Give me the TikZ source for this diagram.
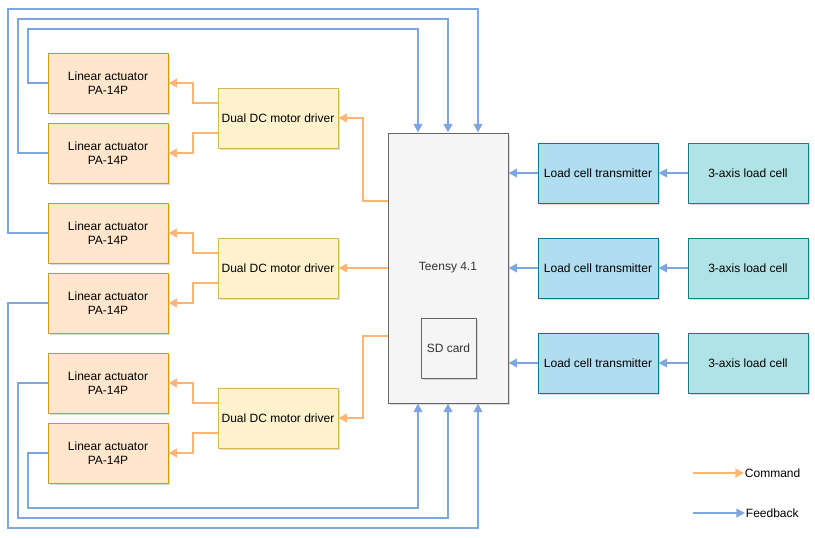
\documentclass[tikz,border=0pt]{standalone}
\usepackage{fontspec}
\setmainfont{Liberation Sans}
\usetikzlibrary{arrows.meta,shadows}
\definecolor{actfill}{HTML}{FFE6CC}\definecolor{actdraw}{HTML}{D79B00}
\definecolor{drvfill}{HTML}{FFF2CC}\definecolor{drvdraw}{HTML}{D6B656}
\definecolor{tnyfill}{HTML}{F5F5F5}\definecolor{tnydraw}{HTML}{666666}
\definecolor{ltfill}{HTML}{B1DDF0}\definecolor{ltdraw}{HTML}{10739E}
\definecolor{lcfill}{HTML}{B0E3E6}\definecolor{lcdraw}{HTML}{0E8088}
\definecolor{cmdc}{HTML}{FFB570}\definecolor{fbc}{HTML}{7EA6E0}
\definecolor{txtgray}{HTML}{333333}
\tikzset{
  box/.style={rectangle, draw, line width=0.75pt, minimum width=90pt, minimum height=45pt,
    inner sep=0pt, align=center, font=\fontsize{9}{10.5}\selectfont,
    drop shadow={shadow xshift=1.5pt, shadow yshift=-1.5pt, opacity=0.28}},
  actbox/.style={box, fill=actfill, draw=actdraw},
  drvbox/.style={box, fill=drvfill, draw=drvdraw},
  ltbox/.style={box, fill=ltfill, draw=ltdraw},
  lcbox/.style={box, fill=lcfill, draw=lcdraw},
  cmd/.style={draw=cmdc, line width=1.6pt, -{Triangle[length=6.5pt,width=6.5pt]}},
  fb/.style={draw=fbc, line width=1.6pt, -{Triangle[length=6.5pt,width=6.5pt]}},
}
\begin{document}
\begin{tikzpicture}[x=0.75pt,y=-0.75pt]
\useasboundingbox (0,0) rectangle (815,537);
% actuators
\node[actbox] (a1) at (108,83) {Linear actuator\\PA-14P};
\node[actbox] (a2) at (108,153) {Linear actuator\\PA-14P};
\node[actbox] (a3) at (108,233) {Linear actuator\\PA-14P};
\node[actbox] (a4) at (108,303) {Linear actuator\\PA-14P};
\node[actbox] (a5) at (108,383) {Linear actuator\\PA-14P};
\node[actbox] (a6) at (108,453) {Linear actuator\\PA-14P};
% drivers
\node[drvbox] (d1) at (278,118) {Dual DC motor driver};
\node[drvbox] (d2) at (278,268) {Dual DC motor driver};
\node[drvbox] (d3) at (278,418) {Dual DC motor driver};
% teensy
\node[box, fill=tnyfill, draw=tnydraw, minimum width=90pt, minimum height=202.5pt, text=txtgray] (T) at (448,268) {Teensy 4.1};
\node[box, fill=tnyfill, draw=tnydraw, minimum width=41.25pt, minimum height=45pt, text=txtgray] (sd) at (448.5,348) {SD card};
% load cell transmitters and load cells
\node[ltbox] (l1) at (598,173) {Load cell transmitter};
\node[ltbox] (l2) at (598,268) {Load cell transmitter};
\node[ltbox] (l3) at (598,363) {Load cell transmitter};
\node[lcbox] (c1) at (748,173) {3-axis load cell};
\node[lcbox] (c2) at (748,268) {3-axis load cell};
\node[lcbox] (c3) at (748,363) {3-axis load cell};
% load cell chain
\draw[fb] (c1.west) -- (l1.east);
\draw[fb] (c2.west) -- (l2.east);
\draw[fb] (c3.west) -- (l3.east);
\draw[fb] (l1.west) -- (T.east |- l1.west);
\draw[fb] (l2.west) -- (T.east |- l2.west);
\draw[fb] (l3.west) -- (T.east |- l3.west);
% commands teensy -> drivers
\draw[cmd] (T.west |- 0,201) -- (363,201) |- (d1.east);
\draw[cmd] (T.west |- d2.east) -- (d2.east);
\draw[cmd] (T.west |- 0,336) -- (363,336) |- (d3.east);
% drivers -> actuators
\draw[cmd] ([yshift=11.25pt]d1.west) -- (193,103) |- (a1.east);
\draw[cmd] ([yshift=-11.25pt]d1.west) -- (193,133) |- (a2.east);
\draw[cmd] ([yshift=11.25pt]d2.west) -- (193,253) |- (a3.east);
\draw[cmd] ([yshift=-11.25pt]d2.west) -- (193,283) |- (a4.east);
\draw[cmd] ([yshift=11.25pt]d3.west) -- (193,403) |- (a5.east);
\draw[cmd] ([yshift=-11.25pt]d3.west) -- (193,433) |- (a6.east);
% feedback top
\draw[fb] (a1.west) -- (28,83) -- (28,29) -- (418,29) -- ([xshift=-22.5pt]T.north);
\draw[fb] (a2.west) -- (18,153) -- (18,19) -- (448,19) -- (T.north);
\draw[fb] (a3.west) -- (8,233) -- (8,9) -- (478,9) -- ([xshift=22.5pt]T.north);
% feedback bottom
\draw[fb] (a4.west) -- (8,303) -- (8,528) -- (478,528) -- ([xshift=22.5pt]T.south);
\draw[fb] (a5.west) -- (18,383) -- (18,518) -- (448,518) -- (T.south);
\draw[fb] (a6.west) -- (28,453) -- (28,508) -- (418,508) -- ([xshift=-22.5pt]T.south);
% legend
\coordinate (lc0) at (693,473); \coordinate (lc1) at (744,473);
\coordinate (lf0) at (693,513); \coordinate (lf1) at (745,513);
\draw[cmd] (lc0) -- (lc1);
\draw[fb] (lf0) -- (lf1);
\node[anchor=west, inner sep=0.5pt, font=\fontsize{9}{10.5}\selectfont] (lct) at (lc1) {Command};
\node[anchor=west, inner sep=0.5pt, font=\fontsize{9}{10.5}\selectfont] (lft) at (lf1) {Feedback};
\end{tikzpicture}
\end{document}
